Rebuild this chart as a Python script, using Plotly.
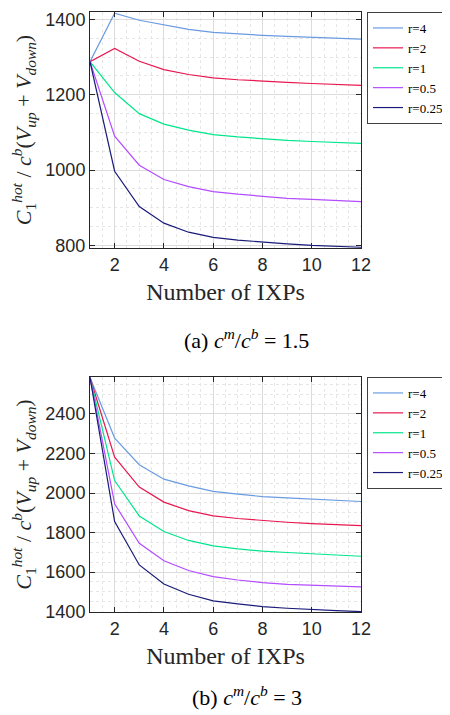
import plotly.graph_objects as go

x_ixps = [1, 2, 3, 4, 5, 6, 7, 8, 9, 10, 11, 12]
legend_labels = ["r=4", "r=2", "r=1", "r=0.5", "r=0.25"]
colors = ["#6A9BE0", "#E8174F", "#00E68C", "#B44CFF", "#1A1A7A"]

# (a) c^m/c^b = 1.5
top_r4 = [1288, 1417, 1398, 1385, 1374, 1366, 1361, 1358, 1355, 1352, 1350, 1348]
top_r2 = [1288, 1323, 1289, 1267, 1254, 1245, 1240, 1236, 1233, 1230, 1228, 1225]
top_r1 = [1288, 1206, 1150, 1122, 1106, 1094, 1088, 1083, 1079, 1076, 1073, 1071]
top_r05 = [1288, 1090, 1013, 975, 956, 943, 936, 930, 925, 922, 919, 916]
top_r025 = [1288, 997, 903, 859, 835, 821, 814, 808, 804, 800, 797, 795]

# (b) c^m/c^b = 3
bot_r4 = [2585, 2278, 2143, 2070, 2036, 2008, 1994, 1982, 1975, 1968, 1962, 1957]
bot_r2 = [2585, 2181, 2030, 1954, 1911, 1884, 1871, 1861, 1852, 1845, 1840, 1835]
bot_r1 = [2585, 2063, 1884, 1805, 1760, 1733, 1717, 1706, 1699, 1692, 1686, 1680]
bot_r05 = [2585, 1945, 1746, 1657, 1608, 1577, 1560, 1547, 1538, 1533, 1529, 1525]
bot_r025 = [2585, 1856, 1636, 1540, 1488, 1454, 1439, 1425, 1417, 1410, 1405, 1400]

top_series = [top_r4, top_r2, top_r1, top_r05, top_r025]
bot_series = [bot_r4, bot_r2, bot_r1, bot_r05, bot_r025]

x_ticks = [2, 4, 6, 8, 10, 12]
top_yticks = [800, 1000, 1200, 1400]
bot_yticks = [1400, 1600, 1800, 2000, 2200, 2400]

fig = go.Figure()
for name, ys, c in zip(legend_labels, top_series, colors):
    fig.add_trace(go.Scatter(x=x_ixps, y=ys, mode="lines", name=name,
                             line=dict(color=c, width=1.2), xaxis="x", yaxis="y",
                             legend="legend"))
for name, ys, c in zip(legend_labels, bot_series, colors):
    fig.add_trace(go.Scatter(x=x_ixps, y=ys, mode="lines", name=name,
                             line=dict(color=c, width=1.2), xaxis="x2", yaxis="y2",
                             legend="legend2"))

# the page body has an 8px margin: figure starts at (8, 8) in the window
OFF = 8
W, H = 442, 707

def px(X):
    return (X - OFF) / W

def py(Y):
    return 1 - (Y - OFF) / H

xdom = [px(90), px(361)]
top_dom = [py(248), py(12)]
bot_dom = [py(612), py(377)]

tick_font = dict(family="Liberation Sans, Arial, sans-serif", size=18, color="#262626")
serif = "Liberation Serif, Times New Roman, serif"

def xaxis_cfg(anchor):
    return dict(domain=xdom, anchor=anchor, range=[1, 12], tickvals=x_ticks,
                ticks="inside", ticklen=5, tickcolor="#262626", mirror="ticks",
                showline=True, linecolor="#262626", linewidth=1,
                showgrid=True, gridcolor="#DCDCDC", gridwidth=1,
                minor=dict(dtick=0.5, showgrid=True, gridcolor="#E6E6E6",
                           griddash="dot", gridwidth=1),
                tickfont=tick_font, zeroline=False, automargin=False,
                title=dict(text="Number of IXPs", font=dict(family=serif, size=24, color="#262626"),
                           standoff=9))

def yaxis_cfg(anchor, dom, rng, tv):
    return dict(domain=dom, anchor=anchor, range=rng, tickvals=tv,
                ticks="inside", ticklen=5, tickcolor="#262626", mirror="ticks",
                showline=True, linecolor="#262626", linewidth=1,
                showgrid=True, gridcolor="#DCDCDC", gridwidth=1,
                minor=dict(dtick=50, showgrid=True, gridcolor="#E6E6E6",
                           griddash="dot", gridwidth=1),
                tickfont=tick_font, zeroline=False, automargin=False,
                title=dict(text="<i>C</i><sub>1</sub><sup><i>hot</i></sup> / <i>c</i><sup><i>b</i></sup>(<i>V</i><sub><i>up</i></sub> + <i>V</i><sub><i>down</i></sub>)",
                           font=dict(family=serif, size=22, color="#262626"), standoff=12))

leg_common = dict(bgcolor="white", bordercolor="#404040", borderwidth=1,
                  font=dict(family=serif, size=13, color="black"),
                  xanchor="left", yanchor="top", itemwidth=30,
                  tracegroupgap=0)

fig.update_layout(
    width=W, height=H,
    margin=dict(l=0, r=0, t=0, b=0, autoexpand=False),
    paper_bgcolor="white", plot_bgcolor="white",
    xaxis=xaxis_cfg("y"),
    yaxis=yaxis_cfg("x", top_dom, [793, 1420], top_yticks),
    xaxis2=xaxis_cfg("y2"),
    yaxis2=yaxis_cfg("x2", bot_dom, [1398, 2587], bot_yticks),
    legend=dict(x=px(367), y=py(12), **leg_common),
    legend2=dict(x=px(367), y=py(377), **leg_common),
    annotations=[
        dict(text="(a) <i>c</i><sup><i>m</i></sup>/<i>c</i><sup><i>b</i></sup> = 1.5",
             x=px(246), y=py(339), xref="paper", yref="paper", showarrow=False,
             xanchor="center", yanchor="middle",
             font=dict(family=serif, size=22, color="black")),
        dict(text="(b) <i>c</i><sup><i>m</i></sup>/<i>c</i><sup><i>b</i></sup> = 3",
             x=px(247), y=py(696), xref="paper", yref="paper", showarrow=False,
             xanchor="center", yanchor="middle",
             font=dict(family=serif, size=22, color="black")),
    ],
)

fig.write_html("out.html")
